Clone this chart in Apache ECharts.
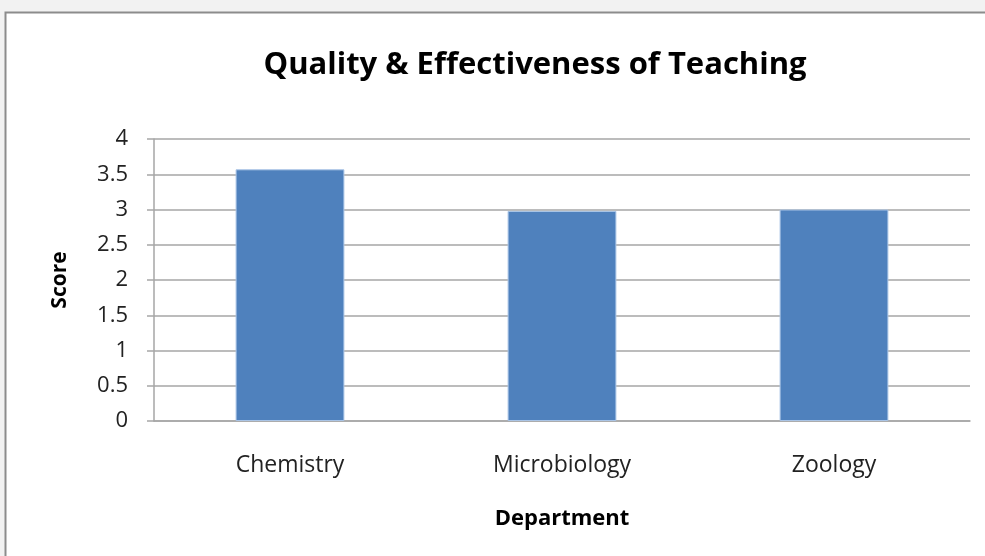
<!DOCTYPE html>
<html>
<head>
<meta charset="utf-8">
<script src="https://cdn.jsdelivr.net/npm/echarts@6/dist/echarts.min.js"></script>
<style>
  html, body { margin: 0; padding: 0; background: #f2f2f2; }
  #chart { width: 985px; height: 556px; }
</style>
</head>
<body>
<div id="chart"></div>
<script>
// Mean teaching score per department
const departments = ['Chemistry', 'Microbiology', 'Zoology'];
const scores = [3.57, 2.98, 3.0];
const yTicks = [0, 0.5, 1, 1.5, 2, 2.5, 3, 3.5, 4];

const fontFamily = '"Open Sans", "Noto Sans", sans-serif';

const chart = echarts.init(document.getElementById('chart'), null, { renderer: 'canvas' });

chart.setOption({
  backgroundColor: '#f2f2f2',
  animation: false,
  graphic: [{
    type: 'rect',
    z: -10,
    shape: { x: 5.5, y: 12.5, width: 1000, height: 600 },
    style: { fill: '#ffffff', stroke: '#8c8c8c', lineWidth: 2 }
  }],
  title: {
    text: 'Quality & Effectiveness of Teaching',
    left: 530,
    textAlign: 'center',
    top: 45,
    textStyle: { fontFamily, fontSize: 31, fontWeight: 'bold', color: '#000' }
  },
  grid: { left: 154, right: 15, top: 139, bottom: 135 },
  xAxis: {
    type: 'category',
    data: departments,
    name: 'Department',
    nameLocation: 'middle',
    nameGap: 87,
    nameTextStyle: { fontFamily, fontSize: 22, fontWeight: 'bold', color: '#000' },
    axisLine: { lineStyle: { color: '#a6a6a6', width: 1.5 } },
    axisTick: { show: false },
    axisLabel: { fontFamily, fontSize: 23, color: '#222', margin: 33 }
  },
  yAxis: {
    type: 'value',
    min: 0,
    max: 4,
    interval: 0.5,
    name: 'Score',
    nameLocation: 'middle',
    nameGap: 83,
    nameRotate: 90,
    nameTextStyle: { fontFamily, fontSize: 21, fontWeight: 'bold', color: '#000' },
    axisLine: { show: true, lineStyle: { color: '#a6a6a6', width: 1.5 } },
    axisTick: { show: true, length: 7, lineStyle: { color: '#a6a6a6', width: 1.5 } },
    splitLine: { lineStyle: { color: '#a6a6a6', width: 1.5 } },
    axisLabel: {
      fontFamily, fontSize: 22, color: '#222', margin: 26,
      formatter: v => (yTicks.includes(v) ? String(v) : '')
    }
  },
  series: [{
    type: 'bar',
    data: scores,
    barWidth: '40%',
    itemStyle: { color: '#4f81bd', borderColor: '#a9c4e6', borderWidth: 1 }
  }]
});
</script>
</body>
</html>
